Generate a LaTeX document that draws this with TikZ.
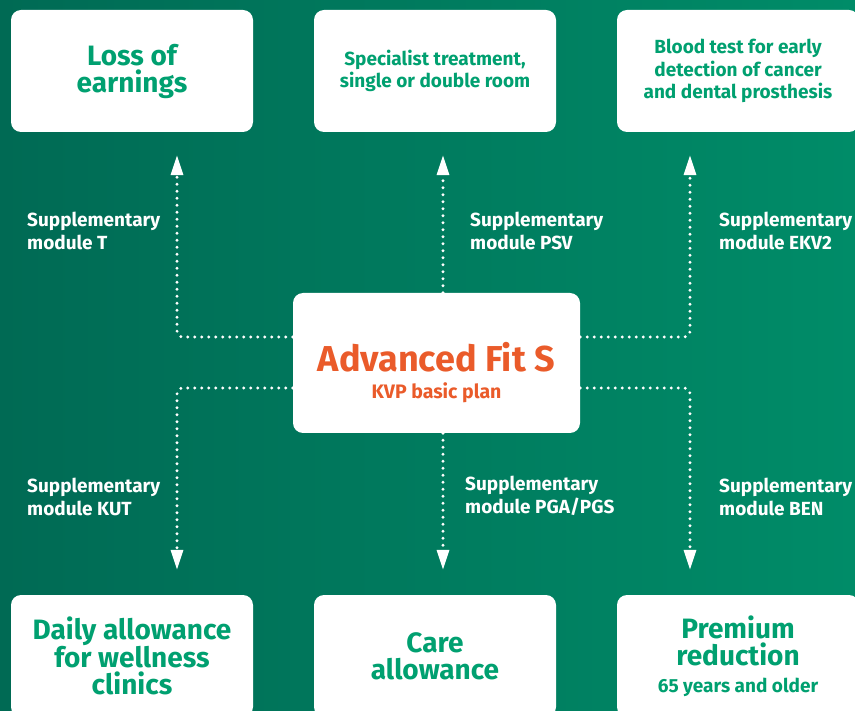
\documentclass[tikz,border=0pt]{standalone}
\usepackage{fontspec}
\setmainfont{Fira Sans}
\usetikzlibrary{arrows.meta}

\definecolor{bgdark}{RGB}{0,106,84}
\definecolor{bglight}{RGB}{0,140,104}
\definecolor{modgreen}{RGB}{0,160,112}
\definecolor{planorange}{RGB}{234,91,42}

\tikzset{
	modbox/.style={fill=white, rounded corners=10pt, minimum width=242pt, minimum height=122pt, inner sep=0pt, text=modgreen, align=center},
	bigtext/.style={font=\bfseries\fontsize{28}{27}\selectfont},
	smalltext/.style={font=\bfseries\fontsize{19}{22.5}\selectfont},
	modlabel/.style={anchor=west, align=left, inner sep=0pt, text=white, font=\bfseries\fontsize{19}{22.5}\selectfont},
	link/.style={white, line width=3.2pt, line cap=round, dash pattern=on 0pt off 7pt, rounded corners=6pt, -{Triangle[length=20pt,width=12pt]}}
}

\begin{document}
\begin{tikzpicture}[x=1pt,y=-1pt]
		\useasboundingbox (0,0) rectangle (855,711);
		\begin{scope}                           % clip to the page
			\clip (0,0) rectangle (855,711);
			\shade[left color=bgdark, right color=bglight] (0,0) rectangle (855,711);

			% modules
			\node[modbox, bigtext] (loss) at (132,71) {Loss of\\earnings};
			\node[modbox, smalltext] (treat) at (435,71) {Specialist treatment,\\single or double room};
			\node[modbox, smalltext] (blood) at (738,71) {Blood test for early\\detection of cancer\\and dental prosthesis};
			\node[modbox, bigtext] (daily) at (132,656) {Daily allowance\\for wellness\\clinics};
			\node[modbox, bigtext] (care) at (435,656) {Care\\allowance};
			\node[modbox, bigtext] (premium) at (738,656) {Premium\\reduction\\{\fontsize{19}{20}\selectfont 65 years and older}};

			% basic plan
			\node[fill=white, rounded corners=10pt, minimum width=287pt, minimum height=140pt, inner sep=0pt] (plan) at (436.5,363) {};
			\node[text=planorange, font=\bfseries\fontsize{36}{36}\selectfont] (plantitle) at (436.5,357) {Advanced Fit S};
			\node[text=planorange, font=\bfseries\fontsize{19.5}{20}\selectfont] (plansub) at (436.5,393) {KVP basic plan};

			% supplementary modules
			\draw[link] ([yshift=26pt]plan.west) -| ([xshift=45pt,yshift=-23pt]loss.south);
			\draw[link] ([xshift=6.5pt]plan.north) -- ([xshift=8pt,yshift=-23pt]treat.south);
			\draw[link] ([yshift=26pt]plan.east) -| ([xshift=-48pt,yshift=-23pt]blood.south);
			\draw[link] ([yshift=-25pt]plan.west) -| ([xshift=45pt,yshift=25pt]daily.north);
			\draw[link] ([xshift=6.5pt]plan.south) -- ([xshift=8pt,yshift=25pt]care.north);
			\draw[link] ([yshift=-25pt]plan.east) -| ([xshift=-48pt,yshift=25pt]premium.north);

			\node[modlabel] (labT) at (27,231) {Supplementary\\module T};
			\node[modlabel] (labPSV) at (470,231) {Supplementary\\module PSV};
			\node[modlabel] (labEKV) at (719,231) {Supplementary\\module EKV2};
			\node[modlabel] (labKUT) at (27,497) {Supplementary\\module KUT};
			\node[modlabel] (labPGA) at (465,496) {Supplementary\\module PGA/PGS};
			\node[modlabel] (labBEN) at (719,497) {Supplementary\\module BEN};
		\end{scope}
		\end{tikzpicture}
\end{document}
